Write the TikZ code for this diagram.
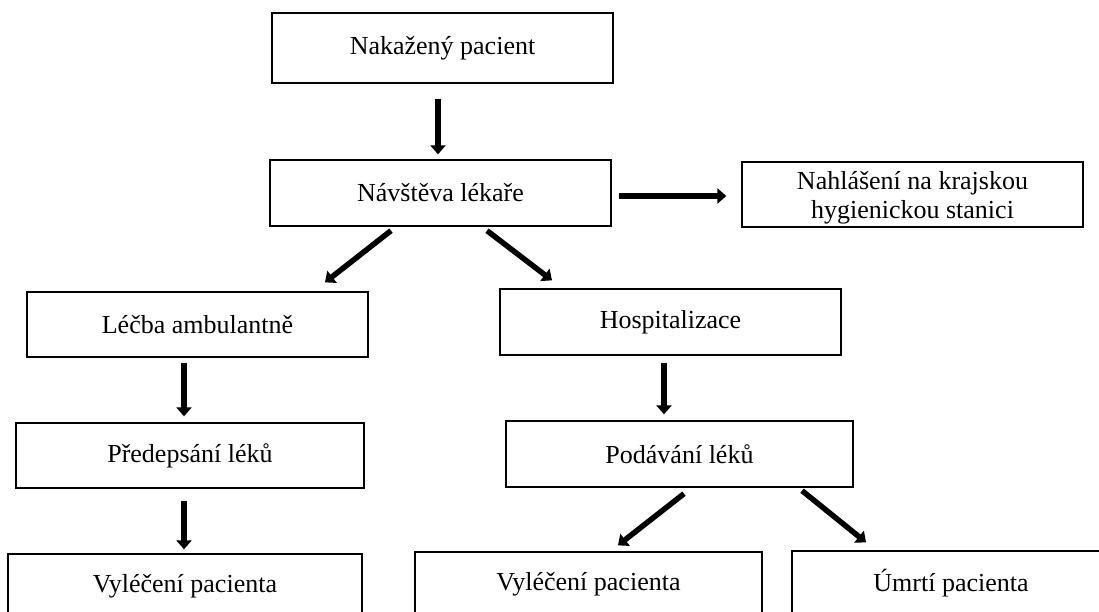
\documentclass[tikz,border=0pt]{standalone}
\usepackage{fontspec}
\setmainfont{Liberation Serif}
\usetikzlibrary{arrows.meta}

\begin{document}
\begin{tikzpicture}[x=1pt,y=-1pt,
  box/.style={draw, line width=1.3pt, minimum height=65pt, align=center,
    inner sep=0pt, font=\fontsize{26}{29}\selectfont},
  arr/.style={line width=5.5pt, -{Triangle[length=9pt,width=15pt]}}]
\useasboundingbox (0,0) rectangle (1099,612);
\clip (0,0) rectangle (1099,612);

% draw the boxes
\node[box, minimum width=341pt, minimum height=70pt] (nak) at (442.5,48) {Nakažený pacient};
\node[box, minimum width=341pt, minimum height=66pt] (nav) at (440.5,193) {Návštěva lékaře};
\node[box, minimum width=341pt, text depth=0pt] (nahl) at (912.5,194.5) {Nahlášení na krajskou\\hygienickou stanici};
\node[box, minimum width=341pt] (lecba) at (197.5,324.5) {Léčba ambulantně};
\node[box, minimum width=341pt, minimum height=66pt] (hosp) at (670.5,322) {Hospitalizace};
\node[box, minimum width=348pt] (pred) at (190,455.5) {Předepsání léků};
\node[box, minimum width=347pt, minimum height=66pt] (podav) at (679.5,454) {Podávání léků};

% bottom row runs off the page
\node[box, minimum width=354pt] (vyl1) at (185,586.5) {Vyléčení pacienta};
\node[box, minimum width=347pt] (vyl2) at (588.5,584.5) {Vyléčení pacienta};
\node[box, minimum width=318pt] (umrti) at (951,583.5) {Úmrtí pacienta};

% draw the arrows
\draw[arr] ([shift={(-4.5,15)}]nak.south) -- ([shift={(-2.5,-5)}]nav.north);
\draw[arr] ([shift={(7,3)}]nav.east) -- ([shift={(-15,1.5)}]nahl.west);
\draw[arr] ([shift={(-49.5,4)}]nav.south) -- ([shift={(127.5,-9)}]lecba.north);
\draw[arr] ([shift={(46.5,4)}]nav.south) -- ([shift={(-118.5,-8)}]hosp.north);
\draw[arr] ([shift={(-13.5,5)}]lecba.south) -- ([shift={(-6,-6)}]pred.north);
\draw[arr] ([shift={(-6.5,7)}]hosp.south) -- ([shift={(-15.5,-6)}]podav.north);
\draw[arr] ([shift={(-6,12)}]pred.south) -- ([shift={(-1,-4)}]vyl1.north);
\draw[arr] ([shift={(4.5,6)}]podav.south) -- ([shift={(29.5,-6)}]vyl2.north);
\draw[arr] ([shift={(122.5,3)}]podav.south) -- ([shift={(-85,-8)}]umrti.north);

\end{tikzpicture}
\end{document}
